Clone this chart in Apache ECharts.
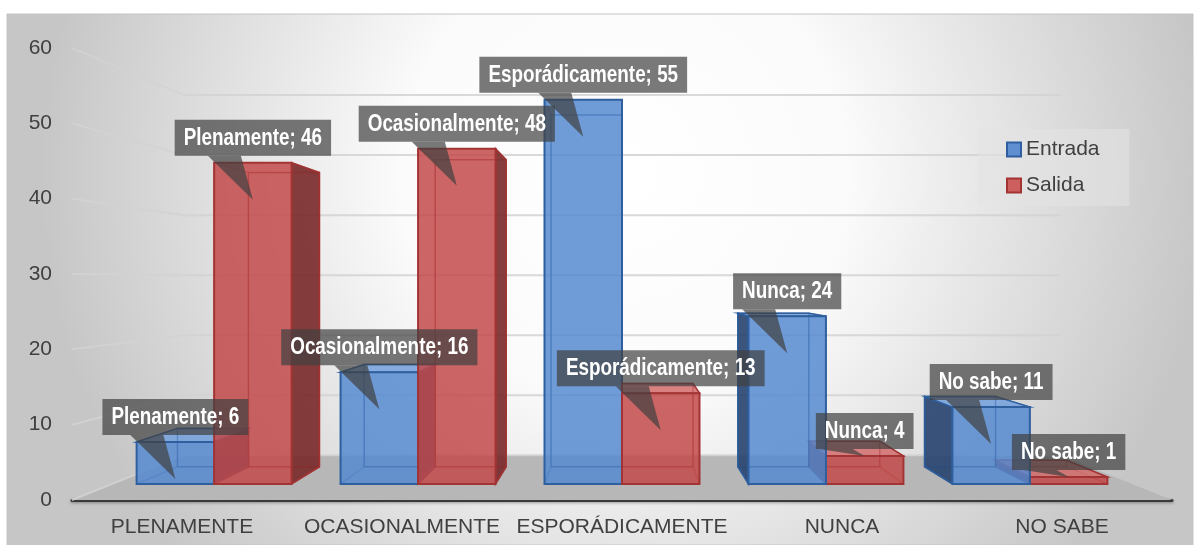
<!DOCTYPE html>
<html lang="es">
<head>
<meta charset="UTF-8">
<title>Entrada / Salida</title>
<style>html,body{margin:0;padding:0;background:#fff}</style>
</head>
<body>
<div id="chart" style="width:1198px;height:545px"></div>
<script src="https://cdn.jsdelivr.net/npm/echarts@6/dist/echarts.min.js"></script>
<script>
const categories = ['PLENAMENTE', 'OCASIONALMENTE', 'ESPORÁDICAMENTE', 'NUNCA', 'NO SABE'];
const labelNames = ['Plenamente', 'Ocasionalmente', 'Esporádicamente', 'Nunca', 'No sabe'];
const entrada = [6, 16, 55, 24, 11];
const salida = [46, 48, 13, 4, 1];
const yTicks = [0, 10, 20, 30, 40, 50, 60];

const FONT = '"Liberation Sans", Arial, sans-serif';
const CALLOUT = 'rgba(64,64,64,0.7)';
// depth in the perspective: 0 = front plane of the axes, 1 = vanishing point
const BAR_FRONT = 0.073, BAR_BACK = 0.151, FLOOR_BACK = 0.203;

const colors = [
    {face: 'rgba(84,136,206,0.84)', top: 'rgba(115,160,220,0.85)', side: 'rgba(38,66,110,0.9)', edge: '#2f5f9f'},
    {face: 'rgba(194,72,72,0.84)', top: 'rgba(212,108,108,0.85)', side: 'rgba(120,40,40,0.9)', edge: '#a33434'}
];

function vanish(cs) {
    return [cs.x + cs.width / 2, cs.y + cs.height * 0.513];
}
function proj(p, d, vp) {
    return [p[0] + d * (vp[0] - p[0]), p[1] + d * (vp[1] - p[1])];
}

function renderWall(params, api) {
    const cs = params.coordSys;
    const vp = vanish(cs);
    const y = api.coord([0, api.value(1)])[1];
    const fl = [cs.x, y], fr = [cs.x + cs.width, y];
    const bl = proj(fl, FLOOR_BACK, vp), br = proj(fr, FLOOR_BACK, vp);
    const children = [];
    if (api.value(1) === 0) {
        children.push({
            type: 'polygon', z2: 0,
            shape: {points: [fl, bl, br, fr]},
            style: {fill: '#b7b7b7'}
        });
    }
    children.push({
        type: 'polyline', z2: 1,
        shape: {points: [fl, bl, br]},
        style: {stroke: 'rgba(210,210,210,0.85)', lineWidth: 2, fill: null}
    });
    return {type: 'group', children: children};
}

function renderBar(si) {
    return function (params, api) {
        const cs = params.coordSys;
        const vp = vanish(cs);
        const cat = api.value(0), val = api.value(1);
        const band = api.size([1, 0])[0];
        const barW = band * 0.38;
        const c = api.coord([cat, 0]);
        const t = api.coord([cat, val]);
        const x0 = si === 0 ? c[0] - barW : c[0];
        const x1 = x0 + barW;
        const base = [[x0, t[1]], [x1, t[1]], [x1, c[1]], [x0, c[1]]];
        const F = base.map(p => proj(p, BAR_FRONT, vp));
        const B = base.map(p => proj(p, BAR_BACK, vp));
        const col = colors[si];

        // left of the vanishing point the blue bar is behind, right of it the red one
        let behind = 0;
        if (c[0] > vp[0] + 1) behind = 1;
        const z = si === behind ? 0 : 20;

        const ch = [];
        ch.push({type: 'polygon', z2: z, shape: {points: B}, style: {fill: null, stroke: col.edge, lineWidth: 1.5, opacity: 0.55}});
        for (let i = 0; i < 4; i++) {
            ch.push({type: 'line', z2: z, shape: {x1: F[i][0], y1: F[i][1], x2: B[i][0], y2: B[i][1]},
                style: {stroke: col.edge, lineWidth: 1.5, opacity: 0.55}});
        }
        if (F[1][0] < vp[0] - 0.5) {
            ch.push({type: 'polygon', z2: z + 1, shape: {points: [F[1], B[1], B[2], F[2]]},
                style: {fill: col.side, stroke: col.edge, lineWidth: 1.5}});
        }
        if (F[0][0] > vp[0] + 0.5) {
            ch.push({type: 'polygon', z2: z + 1, shape: {points: [F[0], B[0], B[3], F[3]]},
                style: {fill: col.side, stroke: col.edge, lineWidth: 1.5}});
        }
        if (F[0][1] > vp[1]) {
            ch.push({type: 'polygon', z2: z + 2, shape: {points: [F[0], F[1], B[1], B[0]]},
                style: {fill: col.top, stroke: col.edge, lineWidth: 1.5}});
        }
        ch.push({type: 'polygon', z2: z + 3, shape: {points: F},
            style: {fill: col.face, stroke: col.edge, lineWidth: 2}});
        ch.push({type: 'polygon', z2: z + 4, shape: {points: B},
            style: {fill: null, stroke: col.edge, lineWidth: 1.2, opacity: 0.35}});

        // callout label (narrowed to look like Arial Narrow)
        const cx = (F[0][0] + F[1][0]) / 2;
        const topY = F[0][1];
        const boxB = topY - 7;
        const tipY = val > 5 ? topY + 37 : topY;
        ch.push({type: 'polygon', z2: 100, shape: {points: [[cx - 45, boxB], [cx - 12, boxB], [cx, tipY]]},
            style: {fill: CALLOUT}});
        ch.push({type: 'text', z2: 101, x: cx, y: boxB, scaleX: 0.82,
            style: {
                x: 0, y: 0, text: labelNames[cat] + '; ' + val,
                fill: '#ffffff', font: 'bold 23px ' + FONT,
                align: 'center', verticalAlign: 'bottom',
                backgroundColor: CALLOUT, padding: [6, 11, 5, 11], lineHeight: 25
            }});
        return {type: 'group', children: ch};
    };
}

const chart = echarts.init(document.getElementById('chart'));
chart.setOption({
    animation: false,
    graphic: [{
        type: 'rect', z: -10, silent: true,
        shape: {x: 7, y: 14, width: 1186, height: 531},
        style: {
            stroke: '#c4c4c4', lineWidth: 1,
            fill: {
                type: 'radial', x: 0.52, y: 0.3, r: 1.1,
                colorStops: [
                    {offset: 0, color: '#ffffff'},
                    {offset: 0.38, color: '#fbfbfb'},
                    {offset: 1, color: '#c6c6c6'}
                ]
            }
        }
    }],
    grid: {left: 72, top: 48, width: 1100, height: 452},
    legend: {
        orient: 'vertical', left: 978, top: 129,
        padding: [10, 30, 10, 28], itemGap: 15,
        itemWidth: 14, itemHeight: 14, icon: 'rect',
        backgroundColor: 'rgba(228,228,228,0.55)',
        textStyle: {fontFamily: FONT, fontSize: 21, color: '#404040'},
        data: [
            {name: 'Entrada', itemStyle: {color: '#5f8fd0', borderColor: '#2f5f9f', borderWidth: 2}},
            {name: 'Salida', itemStyle: {color: '#cd5f5f', borderColor: '#a33434', borderWidth: 2}}
        ]
    },
    xAxis: {
        type: 'category', data: categories,
        axisLine: {lineStyle: {color: '#3a3a3a', width: 3, shadowBlur: 3, shadowColor: 'rgba(0,0,0,0.35)', shadowOffsetY: 1}},
        axisTick: {show: false},
        axisLabel: {fontFamily: FONT, fontSize: 21, color: '#404040', margin: 17, interval: 0},
        splitLine: {show: false}
    },
    yAxis: {
        type: 'value', min: 0, max: 60, interval: 10,
        axisLine: {show: false}, axisTick: {show: false},
        axisLabel: {fontFamily: FONT, fontSize: 21, color: '#404040', margin: 20},
        splitLine: {show: false}
    },
    series: [
        {
            type: 'custom', name: 'walls', z: 1, silent: true,
            renderItem: renderWall,
            data: yTicks.map(v => [0, v])
        },
        {
            type: 'custom', name: 'Entrada', z: 2,
            itemStyle: {color: '#5f8fd0'},
            renderItem: renderBar(0),
            data: entrada.map((v, i) => [i, v])
        },
        {
            type: 'custom', name: 'Salida', z: 2,
            itemStyle: {color: '#cd5f5f'},
            renderItem: renderBar(1),
            data: salida.map((v, i) => [i, v])
        }
    ]
});
</script>
</body>
</html>
